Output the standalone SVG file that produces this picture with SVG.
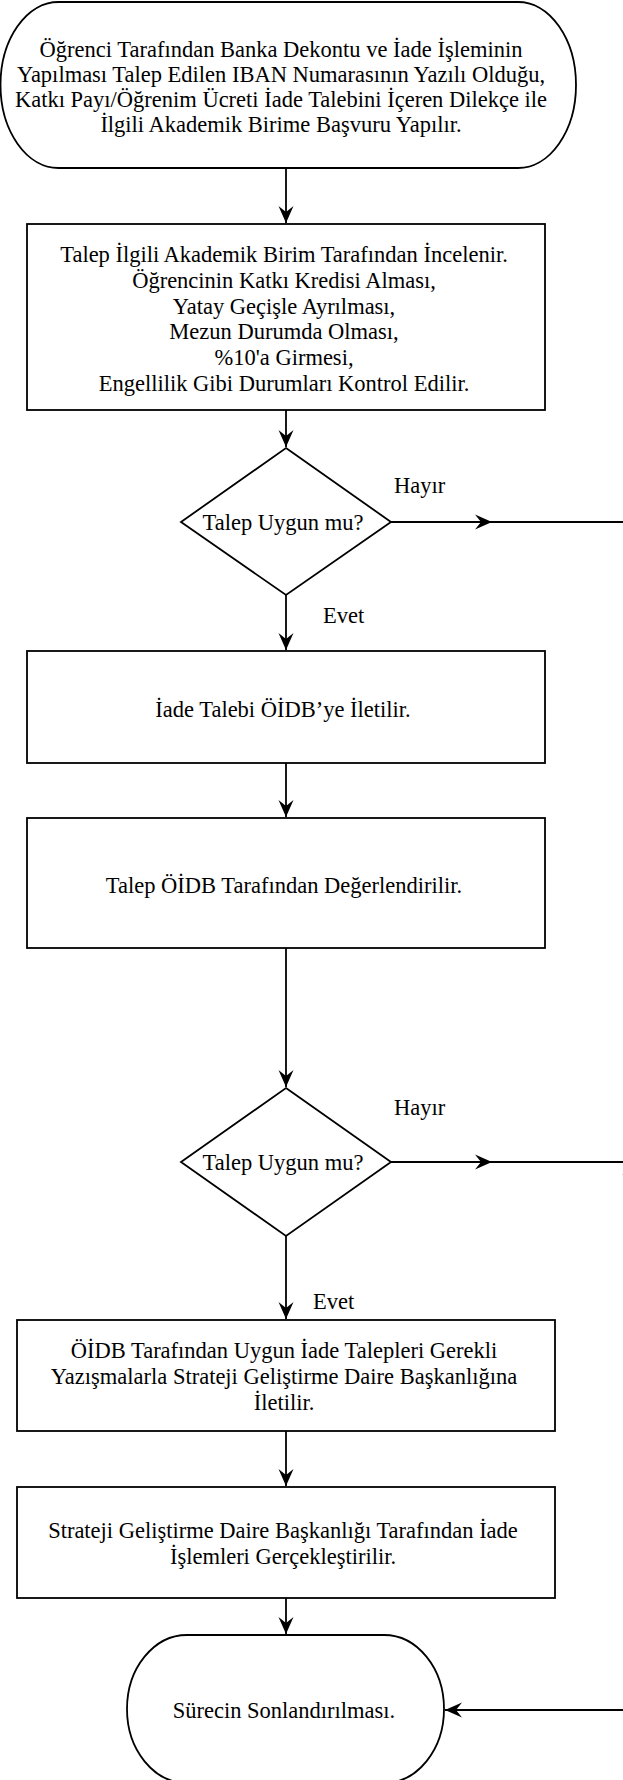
<svg xmlns="http://www.w3.org/2000/svg" width="623" height="1780" viewBox="0 0 623 1780">
<defs>
<style>
.shape{fill:#fff;stroke:#000;stroke-width:1.8}
.conn{fill:none;stroke:#000;stroke-width:1.8}
text{font-family:"Liberation Serif","Times New Roman",serif;font-size:22.5px;fill:#000;text-anchor:middle}
.lbl{text-anchor:start}
</style>
<marker id="arr" markerUnits="userSpaceOnUse" markerWidth="20" markerHeight="18" refX="17" refY="8" orient="auto">
<path d="M0,0.5 L17,8 L0,15.5 L6,8 Z" fill="#000"/>
</marker>
</defs>
<rect width="623" height="1780" fill="#fff"/>

<g id="connectors">
<path class="conn" d="M286,168 V223" marker-end="url(#arr)"/>
<path class="conn" d="M286,410 V447" marker-end="url(#arr)"/>
<path class="conn" d="M286,595 V650" marker-end="url(#arr)"/>
<path class="conn" d="M286,763 V817" marker-end="url(#arr)"/>
<path class="conn" d="M286,948 V1087" marker-end="url(#arr)"/>
<path class="conn" d="M286,1236 V1319" marker-end="url(#arr)"/>
<path class="conn" d="M286,1431 V1486" marker-end="url(#arr)"/>
<path class="conn" d="M286,1598 V1634" marker-end="url(#arr)"/>
<path class="conn" d="M391,522 H492" marker-end="url(#arr)"/>
<path class="conn" d="M492,522 H630 V1162"/>
<path class="conn" d="M391,1162 H492" marker-end="url(#arr)"/>
<path class="conn" d="M492,1162 H630 V1191" marker-end="url(#arr)"/>
<path class="conn" d="M630,1191 V1710 H445" marker-end="url(#arr)"/>
<text class="lbl" x="394" y="493">Hayır</text>
<text class="lbl" x="323" y="623">Evet</text>
<text class="lbl" x="394" y="1115">Hayır</text>
<text class="lbl" x="313" y="1309">Evet</text>
</g>

<g id="start">
<rect class="shape" x="0.5" y="2" width="575.5" height="166" rx="58" ry="83"/>
<text x="281" y="57">Öğrenci Tarafından Banka Dekontu ve İade İşleminin</text>
<text x="281" y="82">Yapılması Talep Edilen IBAN Numarasının Yazılı Olduğu,</text>
<text x="281" y="107">Katkı Payı/Öğrenim Ücreti İade Talebini İçeren Dilekçe ile</text>
<text x="281" y="132">İlgili Akademik Birime Başvuru Yapılır.</text>
</g>

<g id="review">
<rect class="shape" x="27" y="224" width="518" height="186"/>
<text x="284" y="262">Talep İlgili Akademik Birim Tarafından İncelenir.</text>
<text x="284" y="288">Öğrencinin Katkı Kredisi Alması,</text>
<text x="284" y="314">Yatay Geçişle Ayrılması,</text>
<text x="284" y="339">Mezun Durumda Olması,</text>
<text x="284" y="365">%10'a Girmesi,</text>
<text x="284" y="391">Engellilik Gibi Durumları Kontrol Edilir.</text>
</g>

<g id="decision1">
<polygon class="shape" points="286,448 391,522 286,595 181,522"/>
<text x="283" y="530">Talep Uygun mu?</text>
</g>

<g id="forward">
<rect class="shape" x="27" y="651" width="518" height="112"/>
<text x="283" y="717">İade Talebi ÖİDB’ye İletilir.</text>
</g>

<g id="evaluate">
<rect class="shape" x="27" y="818" width="518" height="130"/>
<text x="284" y="893">Talep ÖİDB Tarafından Değerlendirilir.</text>
</g>

<g id="decision2">
<polygon class="shape" points="286,1088 391,1162 286,1236 181,1162"/>
<text x="283" y="1170">Talep Uygun mu?</text>
</g>

<g id="send">
<rect class="shape" x="17" y="1320" width="538" height="111"/>
<text x="284" y="1358">ÖİDB Tarafından Uygun İade Talepleri Gerekli</text>
<text x="284" y="1384">Yazışmalarla Strateji Geliştirme Daire Başkanlığına</text>
<text x="284" y="1410">İletilir.</text>
</g>

<g id="refund">
<rect class="shape" x="17" y="1487" width="538" height="111"/>
<text x="283" y="1538">Strateji Geliştirme Daire Başkanlığı Tarafından İade</text>
<text x="283" y="1564">İşlemleri Gerçekleştirilir.</text>
</g>

<g id="end">
<rect class="shape" x="127" y="1635" width="317" height="148" rx="60" ry="74"/>
<text x="284" y="1718">Sürecin Sonlandırılması.</text>
</g>
</svg>
